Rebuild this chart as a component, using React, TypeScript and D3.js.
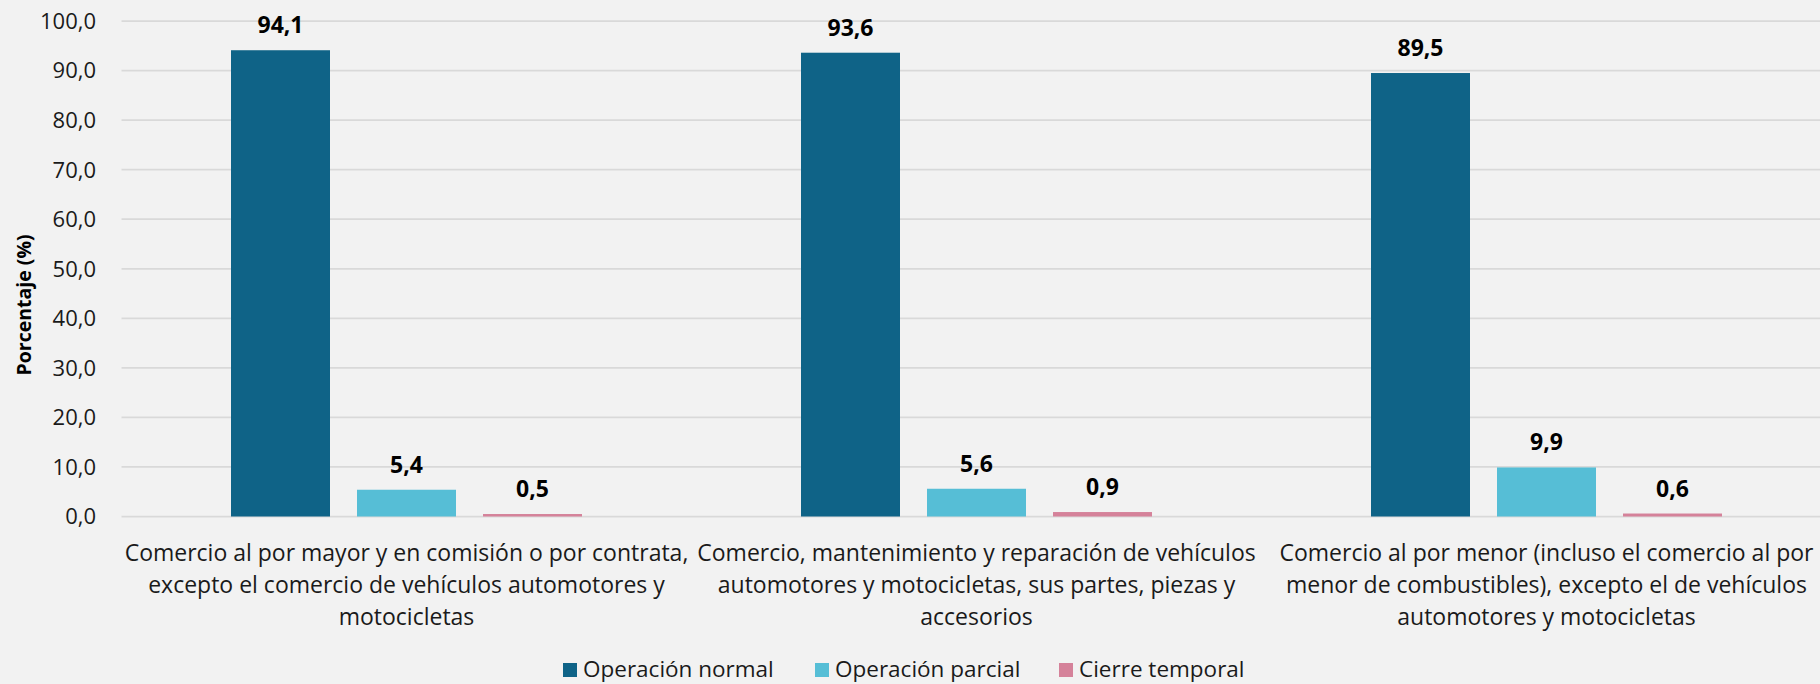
import React from "react";
import * as d3 from "d3";

const categories = [
  ["Comercio al por mayor y en comisión o por contrata,", "excepto el comercio de vehículos automotores y", "motocicletas"],
  ["Comercio, mantenimiento y reparación de vehículos", "automotores y motocicletas, sus partes, piezas y", "accesorios"],
  ["Comercio al por menor (incluso el comercio al por", "menor de combustibles), excepto el de vehículos", "automotores y motocicletas"],
];
const categoryKeys = ["mayor", "vehiculos", "menor"];
const seriesNames = ["Operación normal", "Operación parcial", "Cierre temporal"];
const operacionNormal = [94.1, 93.6, 89.5];
const operacionParcial = [5.4, 5.6, 9.9];
const cierreTemporal = [0.5, 0.9, 0.6];
const yTicks = [0, 10, 20, 30, 40, 50, 60, 70, 80, 90, 100];
const colors = ["#0F6387", "#56BED6", "#D5829A"];

const W = 1820;
const H = 684;
const FONT = "'Open Sans', 'Noto Sans', sans-serif";

export default function App() {
  const seriesValues = [operacionNormal, operacionParcial, cierreTemporal];
  const y = d3.scaleLinear().domain([0, 100]).range([516.5, 21]);
  const x0 = d3.scaleBand().domain(categoryKeys).range([121.5, 1831.5]).padding(0);
  const x1 = d3
    .scaleBand()
    .domain(seriesNames)
    .range([0, x0.bandwidth()])
    .paddingInner(0.2143)
    .paddingOuter(0.869);
  const fmt = (v: number) => v.toFixed(1).replace(".", ",");

  const legendX = [563, 815, 1059];

  return (
    <svg
      width={W}
      height={H}
      style={{ position: "absolute", left: 0, top: 0, background: "#F2F2F2" }}
      fontFamily={FONT}
    >
      <rect x={0} y={0} width={W} height={H} fill="#F2F2F2" />
      {yTicks.map((t) => (
        <g key={t}>
          <line x1={121.5} x2={W} y1={y(t)} y2={y(t)} stroke="#D9D9D9" strokeWidth={1.75} />
          <text x={96} y={y(t)} dy="0.36em" textAnchor="end" fontSize={22} fill="#1a1a1a">
            {fmt(t)}
          </text>
        </g>
      ))}
      <text
        transform={`translate(31,305) rotate(-90)`}
        textAnchor="middle"
        fontSize={19.5}
        fontWeight="bold"
        fill="#000"
      >
        Porcentaje (%)
      </text>
      {categoryKeys.map((c, ci) => (
        <g key={c} transform={`translate(${x0(c)},0)`}>
          {seriesNames.map((s, si) => {
            const v = seriesValues[si][ci];
            const bx = x1(s)!;
            return (
              <g key={s}>
                <rect
                  x={bx}
                  y={y(v)}
                  width={x1.bandwidth()}
                  height={y(0) - y(v)}
                  fill={colors[si]}
                />
                <text
                  x={bx + x1.bandwidth() / 2}
                  y={y(v) - 17}
                  textAnchor="middle"
                  fontSize={23}
                  fontWeight="bold"
                  fill="#000"
                >
                  {fmt(v)}
                </text>
              </g>
            );
          })}
          {categories[ci].map((line, li) => (
            <text
              key={li}
              x={x0.bandwidth() / 2}
              y={561 + li * 32}
              textAnchor="middle"
              fontSize={23}
              fill="#1a1a1a"
            >
              {line}
            </text>
          ))}
        </g>
      ))}
      {seriesNames.map((s, si) => (
        <g key={s}>
          <rect x={legendX[si]} y={663} width={14} height={14} fill={colors[si]} />
          <text x={legendX[si] + 20} y={677} fontSize={22.5} fill="#1a1a1a">
            {s}
          </text>
        </g>
      ))}
    </svg>
  );
}
